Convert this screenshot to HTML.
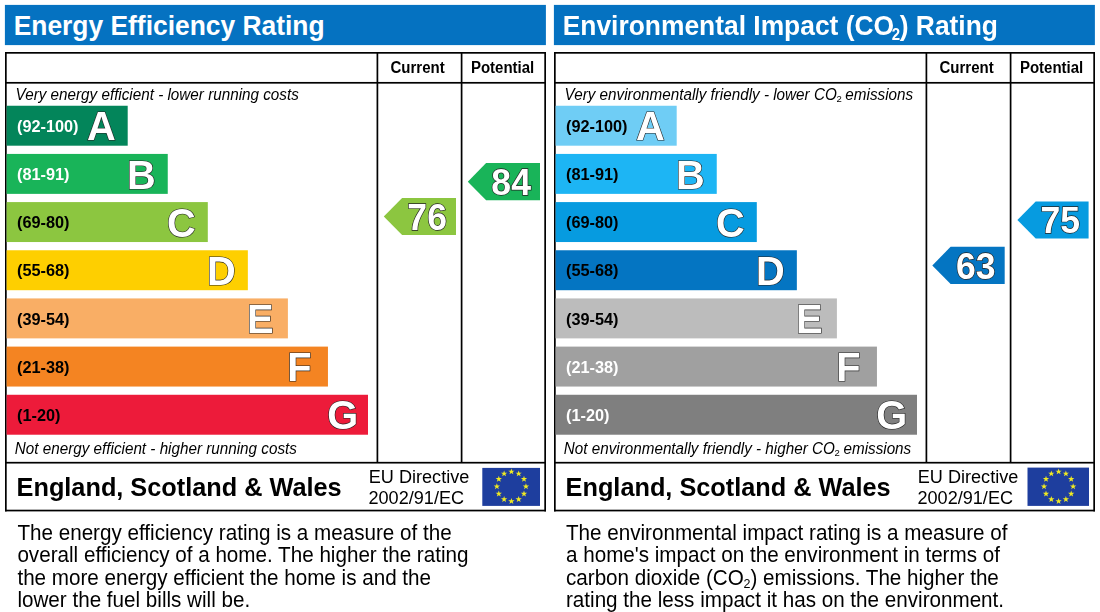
<!DOCTYPE html>
<html><head><meta charset="utf-8"><style>
*{margin:0;padding:0}
html,body{width:1100px;height:612px;background:#fff;overflow:hidden}
svg{display:block;filter:blur(0.3px)}
text{font-family:"Liberation Sans",sans-serif;fill:#000;white-space:pre}
.ttl{font-weight:bold;font-size:26.4px;fill:#fff}
.colh{font-weight:bold;font-size:15px}
.it{font-style:italic;font-size:15.25px}
.rng{font-weight:bold;font-size:16.3px}
.let{font-weight:bold;font-size:39.8px;fill:#fff;stroke:#222;stroke-width:1.2px;paint-order:stroke}
.num{font-weight:bold;font-size:35.6px;fill:#fff;stroke:#222;stroke-width:1.3px;paint-order:stroke;text-anchor:middle}
.esw{font-weight:bold;font-size:25.3px}
.eud{font-size:18.1px}
.desc{font-size:20.65px}
.s1{font-size:15px}
.s2{font-size:9.5px;font-style:normal}
.s3{font-size:12.5px}
</style></head><body>
<svg width="1100" height="612" viewBox="0 0 1100 612">
<defs><path id="st" d="M0,-3.3 L0.78,-1.05 3.15,-1.03 1.27,0.4 1.95,2.67 0,1.32 -1.95,2.67 -1.27,0.4 -3.15,-1.03 -0.78,-1.05Z" fill="#f0ea22"/></defs>
<rect x="4.90" y="4.90" width="541.00" height="40.20" fill="#0572c1"/>
<text x="13.70" y="35.10" class="ttl" transform="matrix(1,0,0,1.04,0,-1.404)" >Energy Efficiency Rating</text>
<rect x="5.00" y="52.00" width="541.00" height="1.70" fill="#000"/>
<rect x="5.00" y="509.70" width="541.00" height="1.70" fill="#000"/>
<rect x="5.00" y="52.00" width="1.70" height="459.40" fill="#000"/>
<rect x="544.30" y="52.00" width="1.70" height="459.40" fill="#000"/>
<rect x="376.55" y="52.00" width="1.70" height="410.70" fill="#000"/>
<rect x="460.75" y="52.00" width="1.70" height="410.70" fill="#000"/>
<rect x="5.00" y="81.95" width="541.00" height="1.70" fill="#000"/>
<rect x="5.00" y="461.85" width="541.00" height="1.70" fill="#000"/>
<text x="390.50" y="73.20" class="colh" transform="matrix(1,0,0,1.04,0,-2.928)" >Current</text>
<text x="470.90" y="73.20" class="colh" transform="matrix(1,0,0,1.04,0,-2.928)" >Potential</text>
<text x="15.60" y="99.60" class="it" transform="matrix(1,0,0,1.04,0,-3.984)" >Very energy efficient - lower running costs</text>
<text x="14.80" y="453.70" class="it" transform="matrix(1,0,0,1.04,0,-18.148)" >Not energy efficient - higher running costs</text>
<rect x="6.60" y="105.75" width="121.10" height="39.95" fill="#03855a"/>
<text x="17.00" y="131.95" class="rng" transform="matrix(1,0,0,1.04,0,-5.278)" style="fill:#fff">(92-100)</text>
<text x="86.90" y="140.45" class="let" transform="matrix(1,0,0,1.02,0,-2.809)" >A</text>
<rect x="6.60" y="153.92" width="161.15" height="39.95" fill="#19b459"/>
<text x="17.00" y="180.12" class="rng" transform="matrix(1,0,0,1.04,0,-7.205)" style="fill:#fff">(81-91)</text>
<text x="126.95" y="188.62" class="let" transform="matrix(1,0,0,1.02,0,-3.772)" >B</text>
<rect x="6.60" y="202.09" width="201.20" height="39.95" fill="#8cc640"/>
<text x="17.00" y="228.29" class="rng" transform="matrix(1,0,0,1.04,0,-9.132)" style="fill:#000">(69-80)</text>
<text x="167.00" y="236.79" class="let" transform="matrix(1,0,0,1.02,0,-4.736)" >C</text>
<rect x="6.60" y="250.26" width="241.25" height="39.95" fill="#fecf00"/>
<text x="17.00" y="276.46" class="rng" transform="matrix(1,0,0,1.04,0,-11.058)" style="fill:#000">(55-68)</text>
<text x="207.05" y="284.96" class="let" transform="matrix(1,0,0,1.02,0,-5.699)" >D</text>
<rect x="6.60" y="298.43" width="281.30" height="39.95" fill="#f9ae65"/>
<text x="17.00" y="324.63" class="rng" transform="matrix(1,0,0,1.04,0,-12.985)" style="fill:#000">(39-54)</text>
<text x="247.10" y="333.13" class="let" transform="matrix(1,0,0,1.02,0,-6.663)" >E</text>
<rect x="6.60" y="346.60" width="321.35" height="39.95" fill="#f48422"/>
<text x="17.00" y="372.80" class="rng" transform="matrix(1,0,0,1.04,0,-14.912)" style="fill:#000">(21-38)</text>
<text x="287.15" y="381.30" class="let" transform="matrix(1,0,0,1.02,0,-7.626)" >F</text>
<rect x="6.60" y="394.77" width="361.40" height="39.95" fill="#ed1b3a"/>
<text x="17.00" y="420.97" class="rng" transform="matrix(1,0,0,1.04,0,-16.839)" style="fill:#000">(1-20)</text>
<text x="327.20" y="429.47" class="let" transform="matrix(1,0,0,1.02,0,-8.589)" >G</text>
<path d="M383.80 216.40 L402.10 197.90 H456.00 V234.90 H402.10 Z" fill="#8cc640"/>
<text x="427.15" y="229.70" class="num" transform="matrix(1,0,0,1.04,0,-9.188)" >76</text>
<path d="M467.80 181.70 L486.10 163.10 H540.00 V200.30 H486.10 Z" fill="#19b459"/>
<text x="511.15" y="194.90" class="num" transform="matrix(1,0,0,1.04,0,-7.796)" >84</text>
<text x="16.60" y="495.90" class="esw" transform="matrix(1,0,0,1.04,0,-19.836)" >England, Scotland &amp; Wales</text>
<text x="368.80" y="483.10" class="eud" transform="matrix(1,0,0,1.04,0,-19.324)" >EU Directive</text>
<text x="368.50" y="503.60" class="eud" transform="matrix(1,0,0,1.04,0,-20.144)" >2002/91/EC</text>
<rect x="482.30" y="467.90" width="57.70" height="38.00" fill="#1e3e9e"/><use href="#st" x="511.40" y="471.70"/><use href="#st" x="518.67" y="473.68"/><use href="#st" x="524.00" y="479.10"/><use href="#st" x="525.95" y="486.50"/><use href="#st" x="524.00" y="493.90"/><use href="#st" x="518.67" y="499.32"/><use href="#st" x="511.40" y="501.30"/><use href="#st" x="504.12" y="499.32"/><use href="#st" x="498.80" y="493.90"/><use href="#st" x="496.85" y="486.50"/><use href="#st" x="498.80" y="479.10"/><use href="#st" x="504.12" y="473.68"/>
<text x="17.40" y="540.00" class="desc" transform="matrix(1,0,0,1.04,0,-21.600)" >The energy efficiency rating is a measure of the</text>
<text x="17.40" y="562.27" class="desc" transform="matrix(1,0,0,1.04,0,-22.491)" >overall efficiency of a home. The higher the rating</text>
<text x="17.40" y="584.54" class="desc" transform="matrix(1,0,0,1.04,0,-23.382)" >the more energy efficient the home is and the</text>
<text x="17.40" y="606.81" class="desc" transform="matrix(1,0,0,1.04,0,-24.272)" >lower the fuel bills will be.</text>
<rect x="553.90" y="4.90" width="541.00" height="40.20" fill="#0572c1"/>
<text x="562.70" y="35.10" class="ttl" transform="matrix(1,0,0,1.04,0,-1.404)" >Environmental Impact (CO<tspan class="s1" dx="-2.4" dy="4.3">2</tspan><tspan dx="-0.3" dy="-4.3">)</tspan> Rating</text>
<rect x="554.00" y="52.00" width="541.00" height="1.70" fill="#000"/>
<rect x="554.00" y="509.70" width="541.00" height="1.70" fill="#000"/>
<rect x="554.00" y="52.00" width="1.70" height="459.40" fill="#000"/>
<rect x="1093.30" y="52.00" width="1.70" height="459.40" fill="#000"/>
<rect x="925.55" y="52.00" width="1.70" height="410.70" fill="#000"/>
<rect x="1009.75" y="52.00" width="1.70" height="410.70" fill="#000"/>
<rect x="554.00" y="81.95" width="541.00" height="1.70" fill="#000"/>
<rect x="554.00" y="461.85" width="541.00" height="1.70" fill="#000"/>
<text x="939.50" y="73.20" class="colh" transform="matrix(1,0,0,1.04,0,-2.928)" >Current</text>
<text x="1019.90" y="73.20" class="colh" transform="matrix(1,0,0,1.04,0,-2.928)" >Potential</text>
<text x="564.60" y="99.60" class="it" transform="matrix(1,0,0,1.04,0,-3.984)" >Very environmentally friendly - lower CO<tspan class="s2" dx="-0.3" dy="2.2">2</tspan><tspan dx="-0.6" dy="-2.2"> emissions</tspan></text>
<text x="563.80" y="453.70" class="it" transform="matrix(1,0,0,1.04,0,-18.148)" >Not environmentally friendly - higher CO<tspan class="s2" dx="-0.3" dy="2.2">2</tspan><tspan dx="-0.6" dy="-2.2"> emissions</tspan></text>
<rect x="555.60" y="105.75" width="121.10" height="39.95" fill="#6fcdf5"/>
<text x="566.00" y="131.95" class="rng" transform="matrix(1,0,0,1.04,0,-5.278)" style="fill:#000">(92-100)</text>
<text x="635.90" y="140.45" class="let" transform="matrix(1,0,0,1.02,0,-2.809)" >A</text>
<rect x="555.60" y="153.92" width="161.15" height="39.95" fill="#1db5f4"/>
<text x="566.00" y="180.12" class="rng" transform="matrix(1,0,0,1.04,0,-7.205)" style="fill:#000">(81-91)</text>
<text x="675.95" y="188.62" class="let" transform="matrix(1,0,0,1.02,0,-3.772)" >B</text>
<rect x="555.60" y="202.09" width="201.20" height="39.95" fill="#069be0"/>
<text x="566.00" y="228.29" class="rng" transform="matrix(1,0,0,1.04,0,-9.132)" style="fill:#000">(69-80)</text>
<text x="716.00" y="236.79" class="let" transform="matrix(1,0,0,1.02,0,-4.736)" >C</text>
<rect x="555.60" y="250.26" width="241.25" height="39.95" fill="#0475c2"/>
<text x="566.00" y="276.46" class="rng" transform="matrix(1,0,0,1.04,0,-11.058)" style="fill:#000">(55-68)</text>
<text x="756.05" y="284.96" class="let" transform="matrix(1,0,0,1.02,0,-5.699)" >D</text>
<rect x="555.60" y="298.43" width="281.30" height="39.95" fill="#bcbcbc"/>
<text x="566.00" y="324.63" class="rng" transform="matrix(1,0,0,1.04,0,-12.985)" style="fill:#000">(39-54)</text>
<text x="796.10" y="333.13" class="let" transform="matrix(1,0,0,1.02,0,-6.663)" >E</text>
<rect x="555.60" y="346.60" width="321.35" height="39.95" fill="#a0a0a0"/>
<text x="566.00" y="372.80" class="rng" transform="matrix(1,0,0,1.04,0,-14.912)" style="fill:#fff">(21-38)</text>
<text x="836.15" y="381.30" class="let" transform="matrix(1,0,0,1.02,0,-7.626)" >F</text>
<rect x="555.60" y="394.77" width="361.40" height="39.95" fill="#7f7f7f"/>
<text x="566.00" y="420.97" class="rng" transform="matrix(1,0,0,1.04,0,-16.839)" style="fill:#fff">(1-20)</text>
<text x="876.20" y="429.47" class="let" transform="matrix(1,0,0,1.02,0,-8.589)" >G</text>
<path d="M932.30 265.40 L950.60 246.80 H1004.70 V284.00 H950.60 Z" fill="#0475c2"/>
<text x="975.75" y="278.60" class="num" transform="matrix(1,0,0,1.04,0,-11.144)" >63</text>
<path d="M1017.40 220.05 L1035.70 201.50 H1088.60 V238.60 H1035.70 Z" fill="#069be0"/>
<text x="1060.25" y="233.30" class="num" transform="matrix(1,0,0,1.04,0,-9.332)" >75</text>
<text x="565.60" y="495.90" class="esw" transform="matrix(1,0,0,1.04,0,-19.836)" >England, Scotland &amp; Wales</text>
<text x="917.80" y="483.10" class="eud" transform="matrix(1,0,0,1.04,0,-19.324)" >EU Directive</text>
<text x="917.50" y="503.60" class="eud" transform="matrix(1,0,0,1.04,0,-20.144)" >2002/91/EC</text>
<rect x="1027.50" y="467.60" width="61.50" height="38.30" fill="#1e3e9e"/><use href="#st" x="1058.60" y="471.70"/><use href="#st" x="1065.88" y="473.68"/><use href="#st" x="1071.20" y="479.10"/><use href="#st" x="1073.15" y="486.50"/><use href="#st" x="1071.20" y="493.90"/><use href="#st" x="1065.88" y="499.32"/><use href="#st" x="1058.60" y="501.30"/><use href="#st" x="1051.32" y="499.32"/><use href="#st" x="1046.00" y="493.90"/><use href="#st" x="1044.05" y="486.50"/><use href="#st" x="1046.00" y="479.10"/><use href="#st" x="1051.32" y="473.68"/>
<text x="566.00" y="540.00" class="desc" transform="matrix(1,0,0,1.04,0,-21.600)" >The environmental impact rating is a measure of</text>
<text x="566.00" y="562.27" class="desc" transform="matrix(1,0,0,1.04,0,-22.491)" >a home's impact on the environment in terms of</text>
<text x="566.00" y="584.54" class="desc" transform="matrix(1,0,0,1.04,0,-23.382)" >carbon dioxide (CO<tspan class="s3" dx="-0.3" dy="3.3">2</tspan><tspan dy="-3.3">) emissions. The higher the</tspan></text>
<text x="566.00" y="606.81" class="desc" transform="matrix(1,0,0,1.04,0,-24.272)" >rating the less impact it has on the environment.</text>
</svg>
</body></html>
